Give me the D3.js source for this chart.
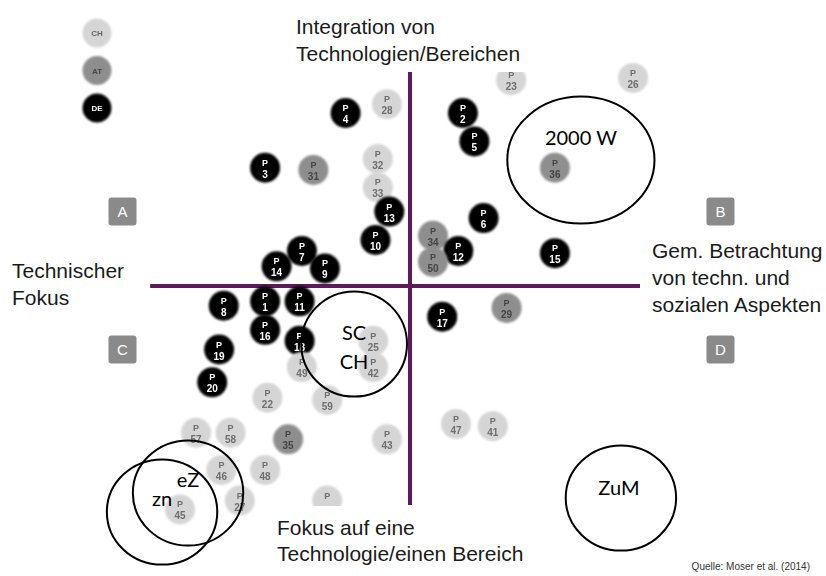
<!DOCTYPE html>
<html><head><meta charset="utf-8">
<script src="https://cdn.jsdelivr.net/npm/d3@7"></script>
<style>body{margin:0;background:#fff}svg{display:block}</style>
</head><body><div id="chart"></div>
<script>
// ---- data (axis units: -10..10) ----
const projectIds = [23,26,28,4,2,5,36,32,33,13,10,6,34,12,50,15,3,31,7,14,9,8,1,11,16,18,19,20,25,42,49,22,59,17,29,47,41,57,58,35,43,46,48,27,45,""];
const xValues   = [4.4,9.7,-1.0,-2.8,2.3,2.8,6.3,-1.4,-1.4,-0.9,-1.5,3.2,1.0,2.1,1.0,6.3,-6.3,-4.2,-4.7,-5.8,-3.7,-8.1,-6.3,-4.8,-6.3,-4.8,-8.3,-8.6,-1.6,-1.6,-4.7,-6.2,-3.6,1.4,4.2,2.0,3.6,-9.3,-7.8,-5.3,-1.0,-8.2,-6.3,-7.4,-10.0,-3.6];
const yValues   = [9.4,9.5,8.3,7.9,7.9,6.6,5.4,5.8,4.5,3.4,2.1,3.1,2.3,1.6,1.1,1.5,5.4,5.3,1.6,0.9,0.8,-0.9,-0.7,-0.7,-2.0,-2.5,-2.9,-4.4,-2.5,-3.7,-3.7,-5.1,-5.2,-1.4,-1.0,-6.3,-6.4,-6.7,-6.7,-7.0,-7.0,-8.4,-8.4,-9.8,-10.2,-9.8];
const countries = ["CH","CH","CH","DE","DE","DE","AT","CH","CH","DE","DE","DE","AT","DE","AT","DE","DE","AT","DE","DE","DE","DE","DE","DE","DE","DE","DE","DE","CH","CH","CH","CH","CH","DE","AT","CH","CH","CH","CH","AT","CH","CH","CH","CH","CH","CH"];
const legendCountries = ["CH","AT","DE"];
const quadrantLabels = ["A","B","C","D"];
const quadrantX = [-12.5,13.5,-12.5,13.5];
const quadrantY = [3.4,3.4,-2.9,-2.9];
const clusterNames = ["2000 W","SC|CH","ZuM","eZ","zn"];
const clusterX  = [7.43,-2.43,9.17,-9.65,-10.78];
const clusterY  = [5.75,-2.65,-9.68,-9.45,-10.32];
const clusterRx = [3.2,2.3,2.4,2.4,2.4];
const clusterRy = [2.9,2.4,2.4,2.4,2.4];
const axisTop    = ["Integration von","Technologien/Bereichen"];
const axisBottom = ["Fokus auf eine","Technologie/einen Bereich"];
const axisLeft   = ["Technischer","Fokus"];
const axisRight  = ["Gem. Betrachtung","von techn. und","sozialen Aspekten"];
const sourceNote = "Quelle: Moser et al. (2014)";

const W = 826, H = 576;
const x = d3.scaleLinear().domain([-10,10]).range([180,640]);
const y = d3.scaleLinear().domain([-10,10]).range([505,67]);
const fill = d3.scaleOrdinal().domain(legendCountries).range(["#d5d5d5","#8e8e8e","#060606"]);
const txt  = d3.scaleOrdinal().domain(legendCountries).range(["#6e6e6e","#444444","#ffffff"]);

const svg = d3.select("#chart").append("svg").attr("width",W).attr("height",H);
svg.append("rect").attr("width",W).attr("height",H).attr("fill","#fff");
const defs = svg.append("defs");
defs.append("filter").attr("id","soft").attr("x","-30%").attr("y","-30%").attr("width","160%").attr("height","160%")
  .append("feGaussianBlur").attr("stdDeviation",1.3);
defs.append("filter").attr("id","softT").attr("x","-30%").attr("y","-30%").attr("width","160%").attr("height","160%")
  .append("feGaussianBlur").attr("stdDeviation",0.35);

const sans = "'Liberation Sans', Arial, sans-serif";
const cal = "Lato, 'Open Sans', sans-serif";

// axes lines
svg.append("line").attr("x1",x(-11.3)).attr("x2",x(10)).attr("y1",y(0)).attr("y2",y(0))
  .attr("stroke","#5e1a5c").attr("stroke-width",4);
svg.append("line").attr("x1",x(0)).attr("x2",x(0)).attr("y1",y(10)).attr("y2",y(-10))
  .attr("stroke","#5e1a5c").attr("stroke-width",4);

// bubbles
const pts = projectIds.map((id,i)=>({id, x:xValues[i], y:yValues[i], c:countries[i]}));
const b = svg.append("g").selectAll("g.b").data(pts).join("g").attr("class","b")
  .attr("transform",d=>`translate(${x(d.x)},${y(d.y)})`);
b.append("circle").attr("r",15).attr("fill",d=>fill(d.c)).attr("filter","url(#soft)");
const bt = b.append("g").attr("filter","url(#softT)");
bt.append("text").text("P").attr("y",-2).attr("text-anchor","middle")
  .attr("font-family",sans).attr("font-size",9).attr("font-weight","bold").attr("fill",d=>txt(d.c));
bt.append("text").text(d=>d.id).attr("y",10).attr("text-anchor","middle")
  .attr("font-family",sans).attr("font-size",10).attr("font-weight","bold").attr("fill",d=>txt(d.c));

// legend
const lg = svg.append("g").selectAll("g").data(legendCountries).join("g")
  .attr("transform",(d,i)=>`translate(97,${33+i*37.5})`);
lg.append("circle").attr("r",14.5).attr("fill",d=>fill(d)).attr("filter","url(#soft)");
lg.append("text").text(d=>d).attr("y",3).attr("text-anchor","middle").attr("font-family",sans)
  .attr("font-size",8).attr("font-weight","bold").attr("filter","url(#softT)")
  .attr("fill",d=>d==="CH"?"#666":d==="AT"?"#444":"#fff");

// white backing for top and bottom titles
svg.append("rect").attr("x",285).attr("y",0).attr("width",250).attr("height",y(10)+5).attr("fill","#fff");
svg.append("rect").attr("x",270).attr("y",y(-10)+1).attr("width",260).attr("height",H).attr("fill","#fff");

// quadrant boxes
const q = svg.append("g").selectAll("g").data(quadrantLabels).join("g")
  .attr("transform",(d,i)=>`translate(${x(quadrantX[i])},${y(quadrantY[i])})`);
q.append("rect").attr("x",-14).attr("y",-14).attr("width",28).attr("height",28).attr("rx",3).attr("fill","#8a8a8a");
q.append("text").text(d=>d).attr("y",5.5).attr("text-anchor","middle").attr("font-family",sans)
  .attr("font-size",15).attr("fill","#fff");

// cluster ellipses
const cl = svg.append("g").selectAll("g").data(clusterNames).join("g");
cl.append("ellipse").attr("cx",(d,i)=>x(clusterX[i])).attr("cy",(d,i)=>y(clusterY[i]))
  .attr("rx",(d,i)=>x(clusterRx[i])-x(0)).attr("ry",(d,i)=>y(0)-y(clusterRy[i]))
  .attr("fill","none").attr("stroke","#000").attr("stroke-width",2);
const labelStyle = s=>s.attr("font-family",cal).attr("font-size",20).attr("fill","#000");
svg.append("text").text("2000 W").attr("x",x(7.43)).attr("y",145).attr("text-anchor","middle").call(labelStyle);
svg.append("text").text("SC").attr("x",354).attr("y",340).attr("text-anchor","middle").call(labelStyle);
svg.append("text").text("CH").attr("x",354).attr("y",369).attr("text-anchor","middle").call(labelStyle);
svg.append("text").text("ZuM").attr("x",x(9.17)-2).attr("y",495).attr("text-anchor","middle").call(labelStyle);
svg.append("text").text("eZ").attr("x",188).attr("y",487).attr("text-anchor","middle").call(labelStyle);
svg.append("text").text("zn").attr("x",162).attr("y",506).attr("text-anchor","middle").call(labelStyle);

// axis captions
function block(lines, x0, y0, lh, anchor){
  svg.append("g").selectAll("text").data(lines).join("text").text(d=>d)
    .attr("x",x0).attr("y",(d,i)=>y0+i*lh).attr("text-anchor",anchor)
    .attr("font-family",sans).attr("font-size",21).attr("fill","#1a1a1a");
}
block(axisTop, 296, 34, 27, "start");
block(axisBottom, 277, 535, 26, "start");
block(axisLeft, 12, 278, 27, "start");
block(axisRight, 652, 258, 27, "start");
svg.append("text").text(sourceNote).attr("x",810).attr("y",570).attr("text-anchor","end")
  .attr("font-family",sans).attr("font-size",10).attr("fill","#333");
</script></body></html>
